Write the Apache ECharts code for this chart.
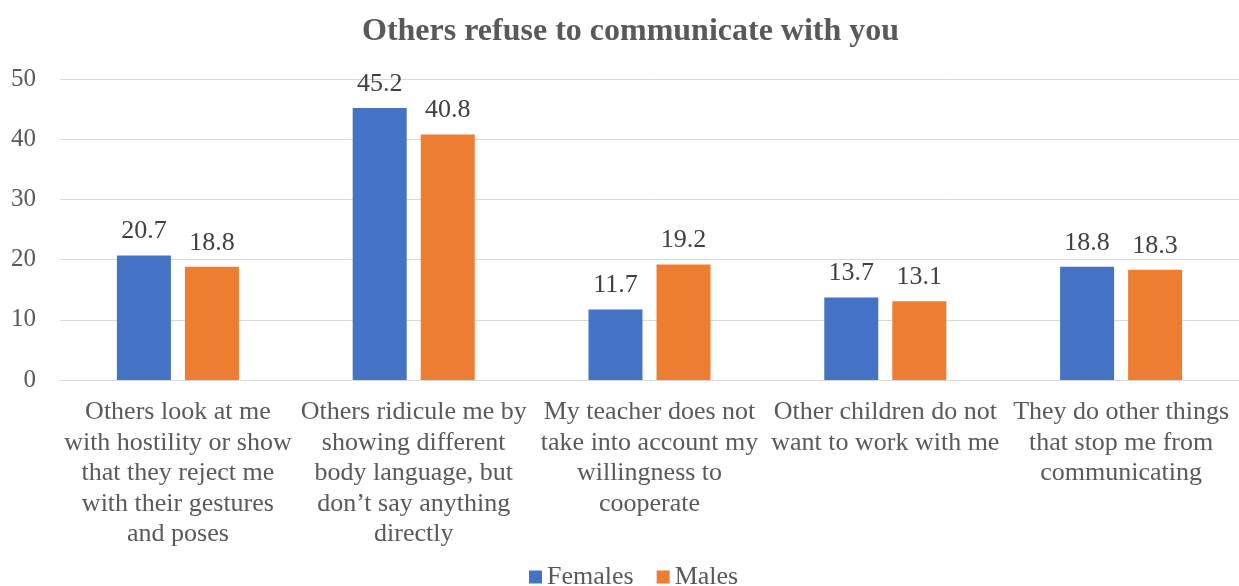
<!DOCTYPE html>
<html>
<head>
<meta charset="utf-8">
<script src="https://cdn.jsdelivr.net/npm/echarts@6/dist/echarts.min.js"></script>
<style>
  html, body { margin: 0; padding: 0; background: #ffffff; }
  #chart { width: 1239px; height: 586px; }
</style>
</head>
<body>
<div id="chart"></div>
<script>
// Survey answers grouped by statement, split by gender (percent)
const categories = [
  'Others look at me\nwith hostility or show\nthat they reject me\nwith their gestures\nand poses',
  'Others ridicule me by\nshowing different\nbody language, but\ndon\u2019t say anything\ndirectly',
  'My teacher does not\ntake into account my\nwillingness to\ncooperate',
  'Other children do not\nwant to work with me',
  'They do other things\nthat stop me from\ncommunicating'
];
const females = [20.7, 45.2, 11.7, 13.7, 18.8];
const males = [18.8, 40.8, 19.2, 13.1, 18.3];
const yTicks = { min: 0, max: 50, interval: 10 };

const serif = '"Liberation Serif", "Times New Roman", serif';
const chart = echarts.init(document.getElementById('chart'));

const labelStyle = {
  show: true,
  position: 'top',
  distance: 11,
  fontFamily: serif,
  fontSize: 26,
  color: '#404040',
  formatter: p => p.value.toFixed(1)
};

chart.setOption({
  animation: false,
  title: {
    text: 'Others refuse to communicate with you',
    left: 357,
    top: 11,
    textStyle: { fontFamily: serif, fontSize: 32, fontWeight: 'bold', color: '#595959' }
  },
  legend: {
    bottom: -9,
    left: 524,
    itemWidth: 13,
    itemHeight: 13,
    itemGap: 23,
    icon: 'rect',
    textStyle: { fontFamily: serif, fontSize: 26, color: '#595959' },
    data: ['Females', 'Males']
  },
  grid: { left: 60, right: 0, top: 79, bottom: 206, containLabel: false },
  xAxis: {
    type: 'category',
    data: categories,
    axisTick: { show: false },
    axisLine: { lineStyle: { color: '#d9d9d9', width: 1 } },
    axisLabel: {
      interval: 0,
      margin: 17,
      fontFamily: serif,
      fontSize: 26,
      lineHeight: 30.5,
      color: '#595959',
      align: 'center'
    }
  },
  yAxis: {
    type: 'value',
    min: yTicks.min,
    max: yTicks.max,
    interval: yTicks.interval,
    axisLine: { show: false },
    axisTick: { show: false },
    splitLine: { lineStyle: { color: '#d9d9d9', width: 1 } },
    axisLabel: { fontFamily: serif, fontSize: 25, color: '#595959', margin: 24 }
  },
  series: [
    {
      name: 'Females',
      type: 'bar',
      data: females,
      barWidth: 54,
      barGap: '26%',
      itemStyle: { color: '#4472c4' },
      label: labelStyle
    },
    {
      name: 'Males',
      type: 'bar',
      data: males,
      barWidth: 54,
      itemStyle: { color: '#ed7d31' },
      label: labelStyle
    }
  ]
});
</script>
</body>
</html>
